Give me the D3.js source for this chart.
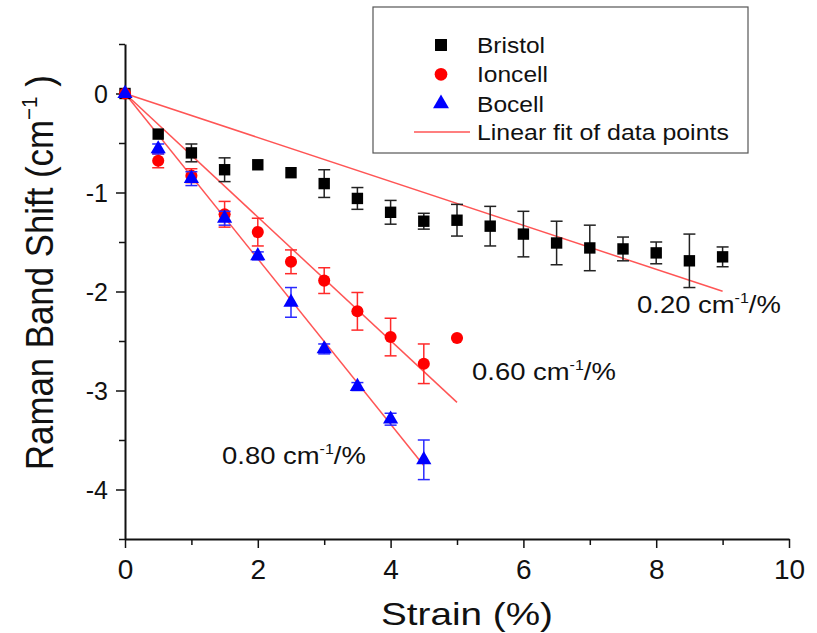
<!DOCTYPE html>
<html>
<head>
<meta charset="utf-8">
<script src="https://cdn.jsdelivr.net/npm/d3@7"></script>
<style>
  body { margin: 0; background: #fff; }
  text { font-family: "Liberation Sans", Arial, sans-serif; fill: #111; }
</style>
</head>
<body>
<div id="chart-area"></div>
<script>
// --- Data ---
var strain = [0, 0.5, 1, 1.5, 2, 2.5, 3, 3.5, 4, 4.5, 5, 5.5, 6, 6.5, 7, 7.5, 8, 8.5, 9];

var bristol    = [0, -0.41, -0.60, -0.77, -0.72, -0.80, -0.91, -1.06, -1.20, -1.29, -1.28, -1.34, -1.42, -1.51, -1.56, -1.57, -1.61, -1.69, -1.65];
var bristolErr = [0, 0, 0.09, 0.12, 0, 0, 0.14, 0.11, 0.12, 0.08, 0.16, 0.20, 0.23, 0.22, 0.23, 0.12, 0.11, 0.27, 0.10];

var ioncell    = [0, -0.68, -0.83, -1.22, -1.40, -1.70, -1.89, -2.20, -2.46, -2.73, -2.47];
var ioncellErr = [0, 0.07, 0.07, 0.13, 0.14, 0.12, 0.13, 0.19, 0.19, 0.20, 0];

var bocell     = [0, -0.56, -0.86, -1.26, -1.64, -2.11, -2.58, -2.96, -3.29, -3.70];
var bocellErr  = [0, 0.05, 0.07, 0.07, 0.04, 0.15, 0.05, 0.04, 0.06, 0.20];

// linear fits: slope and last strain value
var fitSlopes = [-0.222, -0.624, -0.835];
var fitEnds   = [9, 5, 4.5];
var fitLabels = ["0.20", "0.60", "0.80"];

var xTicks = [0, 2, 4, 6, 8, 10];
var yTicks = [0, -1, -2, -3, -4];

// --- Canvas ---
var W = 817, H = 633;
var margins = {top: 44, bottom: 94, left: 125, right: 28};
var width = W - margins.left - margins.right;
var height = H - margins.top - margins.bottom;

var svg = d3.select("#chart-area").append("svg")
    .attr("width", W)
    .attr("height", H);
var group = svg.append("g")
    .attr("transform", "translate(" + margins.left + "," + margins.top + ")");

var x = d3.scaleLinear().domain([0, 10]).range([0, width]);
var y = d3.scaleLinear().domain([-4.5, 0.5]).range([height, 0]);

// stretch a text to a given width (source font is wider than Arial)
function fit(t, px, py, rot, w, sy) {
    var bw = t.node().getBBox().width;
    t.attr("transform", "translate(" + px + "," + py + ") rotate(" + rot + ") scale(" + (w / bw) + "," + (sy || 1) + ")");
}

// --- Axes ---
var xAxis = d3.axisBottom(x)
    .tickValues(d3.range(0, 10.01, 1))
    .tickFormat(function(d) { return xTicks.indexOf(d) >= 0 ? d : ""; })
    .tickSizeOuter(0);
var xg = group.append("g")
    .attr("transform", "translate(0," + height + ")")
    .call(xAxis);
xg.selectAll(".tick line").attr("y2", function(d) { return d % 2 === 0 ? 9 : 6; });

var yAxis = d3.axisLeft(y)
    .tickValues(d3.range(-4.5, 0.51, 0.5))
    .tickFormat(function(d) { return yTicks.indexOf(d) >= 0 ? d : ""; })
    .tickSizeOuter(0);
var yg = group.append("g").call(yAxis);
yg.selectAll(".tick line").attr("x2", function(d) { return Number.isInteger(d) ? -9 : -6; });

[xg, yg].forEach(function(g) {
    g.select(".domain").attr("stroke", "#111").attr("stroke-width", 2);
    g.selectAll(".tick line").attr("stroke", "#111").attr("stroke-width", 1.5);
    g.selectAll(".tick text").attr("fill", "#111")
        .style("font-family", "'Liberation Sans', Arial, sans-serif");
});
xg.selectAll(".tick text").attr("font-size", "28px").attr("y", 20);
yg.selectAll(".tick text").attr("font-size", "25px").attr("x", -17).attr("dy", "0.34em")
    .text(function(d) { return yTicks.indexOf(d) >= 0 ? (d < 0 ? "-" + Math.abs(d) : d) : ""; });

// --- Axis labels ---
var xl = svg.append("text")
    .attr("font-size", "32px")
    .text("Strain (%)");
fit(xl, 381, 625, 0, 172);

var yl = svg.append("text")
    .attr("font-size", "32px");
yl.append("tspan").text("Raman Band Shift (cm");
yl.append("tspan").attr("font-size", "19px").attr("dy", "-13").text("\u22121");
yl.append("tspan").attr("dy", "13").text(" )");
fit(yl, 53, 470, -90, 395, 1.2);

// --- Fit lines ---
fitSlopes.forEach(function(s, i) {
    group.append("line")
        .attr("x1", x(0)).attr("y1", y(0))
        .attr("x2", x(fitEnds[i])).attr("y2", y(s * fitEnds[i]))
        .attr("stroke", "#f55")
        .attr("stroke-width", 1.5);
});

// --- Series ---
var series = [
    {name: "Bristol", vals: bristol, errs: bristolErr, color: "#000", shape: d3.symbolSquare, size: 130},
    {name: "Ioncell", vals: ioncell, errs: ioncellErr, color: "#ff0000", shape: d3.symbolCircle, size: 115},
    {name: "Bocell", vals: bocell, errs: bocellErr, color: "#0000ff", shape: d3.symbolTriangle, size: 100}
];
var errColors = ["#222", "#ff2a2a", "#2a2aff"];

series.forEach(function(s, k) {
    var pts = s.vals.map(function(v, i) { return {x: strain[i], y: v, e: s.errs[i]}; });
    var eg = group.append("g").attr("stroke", errColors[k]).attr("stroke-width", 1.5);
    pts.filter(function(d) { return d.e > 0; }).forEach(function(d) {
        eg.append("line").attr("x1", x(d.x)).attr("x2", x(d.x))
            .attr("y1", y(d.y - d.e)).attr("y2", y(d.y + d.e));
        [d.y - d.e, d.y + d.e].forEach(function(v) {
            eg.append("line").attr("x1", x(d.x) - 6).attr("x2", x(d.x) + 6)
                .attr("y1", y(v)).attr("y2", y(v));
        });
    });
    group.selectAll(null).data(pts).enter()
        .append("path")
        .attr("d", d3.symbol().type(s.shape).size(s.size))
        .attr("transform", function(d) { return "translate(" + x(d.x) + "," + y(d.y) + ")"; })
        .attr("fill", s.color);
});

// --- Slope annotations ---
var annPos = [[637, 313], [472, 380], [222, 464]];
fitLabels.forEach(function(l, i) {
    var t = svg.append("text")
        .attr("font-size", "24px");
    t.append("tspan").text(l + " cm");
    t.append("tspan").attr("font-size", "14px").attr("dy", "-10").text("-1");
    t.append("tspan").attr("dy", "10").text("/%");
    fit(t, annPos[i][0], annPos[i][1], 0, 144);
});

// --- Legend ---
var legendW = [68, 71, 67];
var lg = svg.append("g").attr("transform", "translate(373,7)");
lg.append("rect").attr("width", 375).attr("height", 146)
    .attr("fill", "#fff").attr("stroke", "#555").attr("stroke-width", 1.2);
series.forEach(function(s, i) {
    var yy = 38 + i * 29.3;
    lg.append("path")
        .attr("d", d3.symbol().type(s.shape).size(s.size * 1.1))
        .attr("transform", "translate(68," + yy + ")")
        .attr("fill", s.color);
    var t = lg.append("text").attr("font-size", "22px").text(s.name);
    fit(t, 104, yy + 8, 0, legendW[i]);
});
lg.append("line").attr("x1", 41).attr("x2", 97).attr("y1", 125).attr("y2", 125)
    .attr("stroke", "#f55").attr("stroke-width", 1.5);
var lt = lg.append("text").attr("font-size", "22px").text("Linear fit of data points");
fit(lt, 104, 133, 0, 252);
</script>
</body>
</html>
